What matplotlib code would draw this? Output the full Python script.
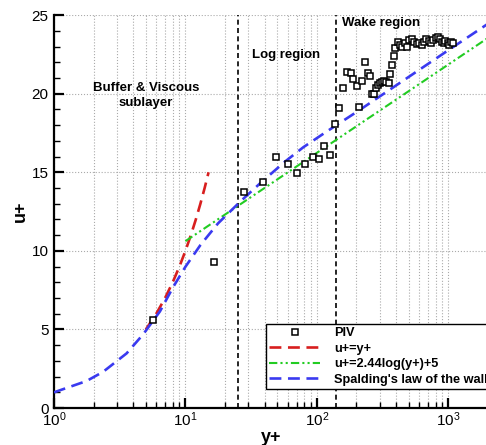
import numpy as np
import matplotlib
matplotlib.use("Agg")
import matplotlib.pyplot as plt
from matplotlib.ticker import LogLocator, MultipleLocator, NullFormatter

plt.rcParams['font.family'] = ['Liberation Sans', 'DejaVu Sans']
plt.rcParams['mathtext.default'] = 'regular'

piv_yp = [5.7, 16.5, 27.7, 38.6, 48.8, 59.8, 70.8, 81.5, 92.8, 103.6, 113.6, 125.6,
          136.4, 147, 156.8, 168.2, 180.4, 188.9, 202.6, 209.8, 221, 231.8, 244.2,
          253, 262, 271, 284, 292.5, 301, 312, 323, 335, 351, 359, 374, 383, 392,
          413, 428, 445, 467, 486, 505, 525, 550, 575, 600, 625, 650, 680, 710,
          740, 770, 800, 830, 860, 890, 920, 950, 985, 1020, 1050, 1080]
piv_up = [5.6, 9.27, 13.76, 14.36, 15.97, 15.5, 14.95, 15.54, 16.0, 15.84, 16.67, 16.07,
          18.05, 19.08, 20.34, 21.35, 21.29, 20.91, 20.5, 19.15, 20.78, 21.99, 21.33,
          21.14, 19.96, 19.97, 20.38, 20.55, 20.66, 20.74, 20.78, 20.74, 20.7, 21.25,
          21.82, 22.39, 22.92, 23.28, 23.07, 22.99, 23.2, 23.0, 23.4, 23.5, 23.3,
          23.15, 23.2, 23.1, 23.3, 23.45, 23.35, 23.2, 23.4, 23.55, 23.6, 23.45,
          23.3, 23.2, 23.35, 23.25, 23.1, 23.3, 23.2]

# viscous sublayer u+ = y+
lin_yp = [5, 6, 7, 8, 9, 10, 11, 12, 13, 14, 15]
lin_up = [5, 6, 7, 8, 9, 10, 11, 12, 13, 14, 15]

# log law, straight on the log axis
log_yp = [10, 2000]
log_up = [10.62, 23.55]

# Spalding's law of the wall
spald_yp = [1.0, 1.77, 2.37, 3.57, 4.78, 6.4, 8.07, 10.0, 13.0, 17.7, 26.0, 37.0,
            57.0, 79.0, 119.0, 211.0, 404.0, 1000.0, 2000.0]
spald_up = [1.0, 1.72, 2.31, 3.48, 4.7, 6.15, 7.7, 8.99, 10.37, 11.75, 13.12, 14.3,
            15.67, 16.6, 17.6, 18.96, 20.55, 22.77, 24.45]

region_bounds = [25, 140]

fig = plt.figure(figsize=(4.86, 4.45), dpi=100)
ax = fig.add_axes([0.111, 0.083, 0.893, 0.883])

ax.set_xscale('log')
ax.set_xlim(1, 2000)
ax.set_ylim(0, 25)

ax.xaxis.set_major_locator(LogLocator(base=10, numticks=10))
ax.xaxis.set_minor_locator(LogLocator(base=10, subs=np.arange(2, 10), numticks=20))
ax.xaxis.set_minor_formatter(NullFormatter())
ax.yaxis.set_major_locator(MultipleLocator(5))
ax.yaxis.set_minor_locator(MultipleLocator(1))

ax.grid(True, which='major', axis='both', color='#aaaaaa', linestyle=':', linewidth=0.8)
ax.grid(True, which='minor', axis='x', color='#aaaaaa', linestyle=':', linewidth=0.8)

for x in region_bounds:
    ax.axvline(x, color='black', linestyle=(0, (3, 2)), linewidth=1.2, zorder=2)

ax.plot(lin_yp, lin_up, color='#d81e1e', linestyle=(0, (4.5, 2.5)), linewidth=1.9,
        label='u+=y+', zorder=3)
ax.plot(log_yp, log_up, color='#22cc22', linestyle=(0, (4, 1.5, 1, 1.5, 1, 1.5)),
        linewidth=1.5, label='u+=2.44log(y+)+5', zorder=3)
ax.plot(spald_yp, spald_up, color='#3a3af0', linestyle=(0, (4.5, 2.5)), linewidth=1.9,
        label="Spalding's law of the wall", zorder=3)
ax.plot(piv_yp, piv_up, linestyle='none', marker='s', markersize=4.2,
        markerfacecolor='white', markeredgecolor='black', markeredgewidth=1.1,
        label='PIV', zorder=4)

ax.text(5.0, 19.9, 'Buffer & Viscous\nsublayer', ha='center', va='center',
        fontsize=9.5, fontweight='bold', linespacing=1.3)
ax.text(32, 22.45, 'Log region', ha='left', va='center', fontsize=9.5, fontweight='bold')
ax.text(155, 24.5, 'Wake region', ha='left', va='center', fontsize=9.5, fontweight='bold')

ax.set_xlabel('y+', fontsize=13, fontweight='bold', labelpad=0)
ax.set_ylabel('u+', fontsize=13, fontweight='bold', labelpad=2)

for s in ['top', 'right']:
    ax.spines[s].set_visible(False)
for s in ['left', 'bottom']:
    ax.spines[s].set_linewidth(1.6)

ax.tick_params(which='major', direction='in', length=7, width=1.6, labelsize=11, pad=4)
ax.tick_params(axis='x', which='major', pad=1.5)
ax.tick_params(which='minor', direction='in', length=4, width=1.0)
ax.tick_params(top=False, right=False, which='both')

h, l = ax.get_legend_handles_labels()
order = [3, 0, 1, 2]
leg = ax.legend([h[i] for i in order], [l[i] for i in order],
                loc='upper left', bbox_to_anchor=(266 / 486, 1 - 324 / 445),
                bbox_transform=fig.transFigure, borderaxespad=0,
                fancybox=False, framealpha=1, edgecolor='black',
                prop={'weight': 'bold', 'size': 9.2}, handlelength=4.0,
                handletextpad=1.1, borderpad=0.25, labelspacing=0.28)
leg.get_frame().set_linewidth(1.0)

fig.savefig('out.png', dpi=100)
